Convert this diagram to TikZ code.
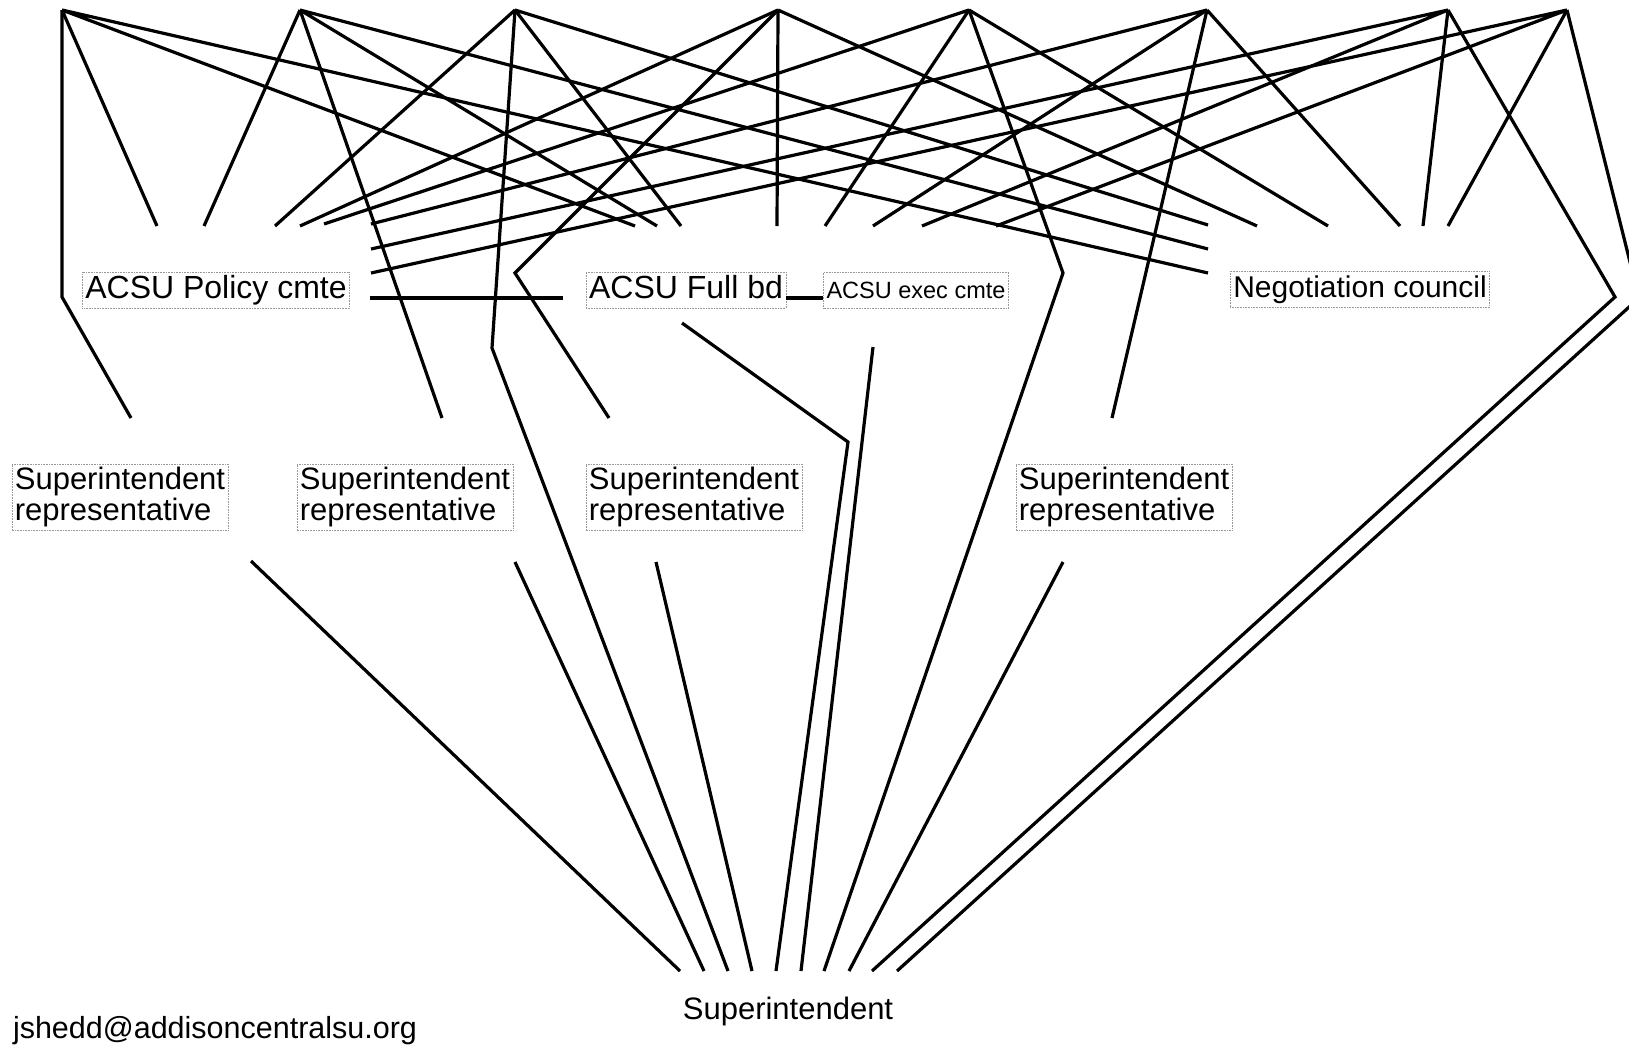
\documentclass[tikz,border=0pt]{standalone}
\usepackage{fontspec}
\setmainfont{Liberation Sans}
\begin{document}
\begin{tikzpicture}[x=1pt,y=-1pt,
  link/.style={line width=3.2pt},
  lbl/.style={font=\fontsize{31}{31}\selectfont,inner sep=3pt},
  boxed/.style={lbl,draw=black!40,densely dotted,line width=0.6pt,text height=23pt,text depth=7pt,anchor=base},
  rep/.style={lbl,draw=black!40,densely dotted,line width=0.6pt,align=left}]
\clip (0,0) rectangle (1629,1052);
\coordinate (t1) at (62,10);
\coordinate (t2) at (300,10);
\coordinate (t3) at (515,10);
\coordinate (t4) at (778,10);
\coordinate (t5) at (969,10);
\coordinate (t6) at (1207,10);
\coordinate (t7) at (1448,10);
\coordinate (t8) at (1567,10);
\coordinate (p1) at (157,226);
\coordinate (p2) at (204,226);
\coordinate (p3) at (275,226);
\coordinate (p4) at (300,226);
\coordinate (p5) at (324,224);
\coordinate (p6) at (371,224);
\coordinate (p7) at (371,249);
\coordinate (p8) at (371,273);
\coordinate (f1) at (635,226);
\coordinate (f2) at (657,226);
\coordinate (f3) at (681,226);
\coordinate (f4) at (777,226);
\coordinate (f5) at (825,226);
\coordinate (f6) at (873,226);
\coordinate (f7) at (922,226);
\coordinate (f8) at (996,226);
\coordinate (n1) at (1208,273);
\coordinate (n2) at (1208,249);
\coordinate (n3) at (1208,225);
\coordinate (n4) at (1257,226);
\coordinate (n5) at (1328,226);
\coordinate (n6) at (1400,226);
\coordinate (n7) at (1423,226);
\coordinate (n8) at (1448,226);
\node[boxed,font=\fontsize{32}{32}\selectfont] (policy) at (216,298) {ACSU Policy cmte};
\node[boxed,font=\fontsize{32}{32}\selectfont] (fullbd) at (686,298) {ACSU Full bd};
\node[boxed,font=\fontsize{23.5}{24}\selectfont] (exec) at (916,298) {ACSU exec cmte};
\node[boxed,font=\fontsize{30}{30}\selectfont] (negot) at (1360,297) {Negotiation council};
\node[rep] (rep1) at (120,497) {Superintendent\\representative};
\node[rep] (rep2) at (405,497) {Superintendent\\representative};
\node[rep] (rep3) at (694,497) {Superintendent\\representative};
\node[rep] (rep4) at (1124,497) {Superintendent\\representative};
\node[lbl,anchor=base] (supt) at (788,1019) {Superintendent};
\node[lbl,anchor=base,font=\fontsize{30.5}{31}\selectfont] (email) at (215,1038) {jshedd@addisoncentralsu.org};
\coordinate (b1) at (62,297);
\coordinate (b3) at (492,348);
\coordinate (b4) at (515,273);
\coordinate (b5) at (1063,273);
\coordinate (b7) at (1615,297);
\coordinate (b8) at (1639,298);
\coordinate (r1a) at (131,418);
\coordinate (r1b) at (251,561);
\coordinate (r2a) at (442,418);
\coordinate (r2b) at (515,562);
\coordinate (r3a) at (609,418);
\coordinate (r3b) at (656,562);
\coordinate (r4a) at (1112,418);
\coordinate (r4b) at (1063,562);
\coordinate (fb) at (682,323);
\coordinate (fbk) at (848,442);
\coordinate (ex) at (873,347);
\coordinate (s1) at (680,971);
\coordinate (s2) at (704,971);
\coordinate (s3) at (728,971);
\coordinate (s4) at (752,971);
\coordinate (s5) at (776,971);
\coordinate (s6) at (801,971);
\coordinate (s7) at (824,971);
\coordinate (s8) at (849,971);
\coordinate (s9) at (872,971);
\coordinate (s10) at (897,971);
\draw[link] (t1)--(p1) (t1)--(f1) (t1)--(n1);
\draw[link] (t2)--(p2) (t2)--(f2) (t2)--(n2);
\draw[link] (t3)--(p3) (t3)--(f3) (t3)--(n3);
\draw[link] (t4)--(p4) (t4)--(f4) (t4)--(n4);
\draw[link] (t5)--(p5) (t5)--(f5) (t5)--(n5);
\draw[link] (t6)--(p6) (t6)--(f6) (t6)--(n6);
\draw[link] (t7)--(p7) (t7)--(f7) (t7)--(n7);
\draw[link] (t8)--(p8) (t8)--(f8) (t8)--(n8);
\draw[link] (t1)--(b1)--(r1a);
\draw[link] (t2)--(r2a);
\draw[link] (t3)--(b3)--(s3);
\draw[link] (t4)--(b4)--(r3a);
\draw[link] (t5)--(b5)--(s7);
\draw[link] (t6)--(r4a);
\draw[link] (t7)--(b7)--(s9);
\draw[link] (t8)--(b8)--(s10);
\draw[link,shorten <=20pt,shorten >=23pt] (policy.base east)--(fullbd.base west);
\draw[link] (fullbd.base east)--(exec.base west);
\draw[link] (r1b)--(s1);
\draw[link] (r2b)--(s2);
\draw[link] (r3b)--(s4);
\draw[link] (fb)--(fbk)--(s5);
\draw[link] (ex)--(s6);
\draw[link] (r4b)--(s8);
\end{tikzpicture}
\end{document}
